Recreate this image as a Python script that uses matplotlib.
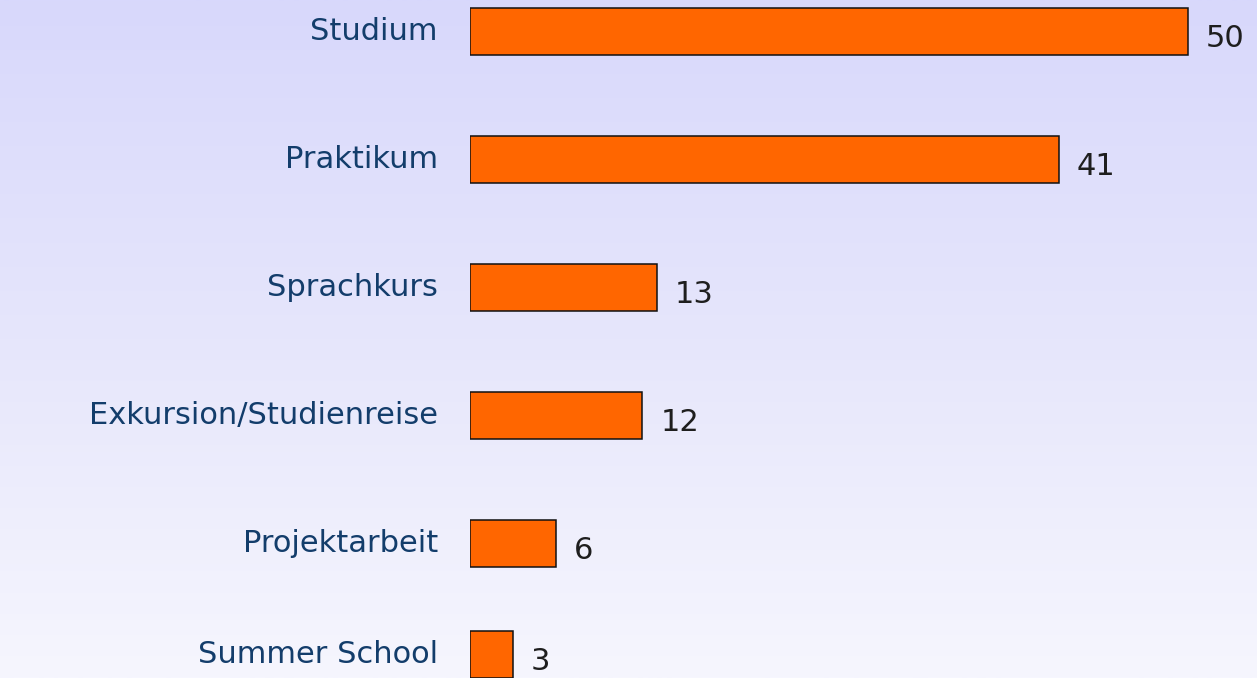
import numpy as np
import matplotlib.pyplot as plt
from matplotlib.colors import LinearSegmentedColormap

# Data
categories = ['Studium', 'Praktikum', 'Sprachkurs', 'Exkursion/Studienreise',
              'Projektarbeit', 'Summer School']
values = [50, 41, 13, 12, 6, 3]
# row positions (the last row sits a bit closer in the original)
positions = [0, 1, 2, 3, 4, 4.867]

W, H, DPI = 1257, 678, 100
fig = plt.figure(figsize=(W / DPI, H / DPI), dpi=DPI)

# background gradient, lavender at the top to almost white at the bottom
bg = fig.add_axes([0, 0, 1, 1], zorder=0)
grad = np.linspace(0, 1, 256).reshape(-1, 1)
cmap = LinearSegmentedColormap.from_list('bg', ['#d8d8fc', '#e6e6fb', '#f6f6fe'])
bg.imshow(grad, aspect='auto', cmap=cmap, extent=[0, 1, 0, 1], origin='upper')
bg.axis('off')

left = 470 / W
ax = fig.add_axes([left, 0, 1 - left, 1], zorder=1)
ax.patch.set_alpha(0)

ax.barh(positions, values, height=0.367, color='#ff6600',
        edgecolor='#111111', linewidth=1.1)

ax.set_xlim(0, (W - 470) / 14.36)
ax.set_ylim((H - 31.5) / 128, -31.5 / 128)

for pos, cat, val in zip(positions, categories, values):
    ax.annotate(cat, xy=(0, pos), xytext=(-32, 0), textcoords='offset pixels',
                ha='right', va='center', color='#133d6b',
                family='DejaVu Sans', fontsize=22, annotation_clip=False)
    ax.annotate(str(val), xy=(val, pos), xytext=(18, -7), textcoords='offset pixels',
                ha='left', va='center', color='#1e1e1e',
                family='DejaVu Sans', fontsize=22, annotation_clip=False)

ax.axis('off')

fig.savefig('out.png', dpi=DPI)
